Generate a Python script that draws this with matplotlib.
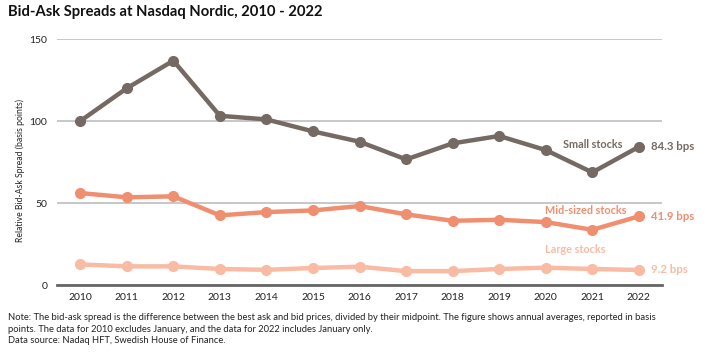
import matplotlib.pyplot as plt

plt.rcParams['font.family'] = ['Lato', 'DejaVu Sans']

years = list(range(2010, 2023))
small = [100, 120, 136.8, 103.2, 101, 93.7, 87.4, 76.6, 86.4, 90.9, 82.3, 68.7, 84.3]
mid = [56.1, 53.5, 54.1, 42.5, 44.5, 45.5, 48.2, 43.1, 39.2, 39.8, 38.4, 33.7, 41.9]
large = [12.6, 11.4, 11.4, 9.8, 9.3, 10.4, 11.2, 8.5, 8.5, 9.8, 10.6, 9.8, 9.2]

series_names = ["Small stocks", "Mid-sized stocks", "Large stocks"]
end_labels = ["84.3 bps", "41.9 bps", "9.2 bps"]
colors = ["#756a63", "#f08f6f", "#f9bba3"]

fig = plt.figure(figsize=(7.12, 3.55), dpi=100)
ax = fig.add_axes([0.080, 0.197, 0.850, 0.693])

for vals, col in zip([small, mid, large], colors):
    ax.plot(years, vals, color=col, lw=3.2, marker='o', markersize=7,
            solid_joinstyle='round', zorder=3, clip_on=False)

ax.set_xlim(2009.5, 2022.5)
ax.set_ylim(0, 150)
ax.set_yticks([0, 50, 100, 150])
ax.set_xticks(years)
ax.grid(axis='y', color='#bdbdbd', lw=1.2, zorder=0)
for s in ['top', 'right', 'left']:
    ax.spines[s].set_visible(False)
ax.spines['bottom'].set_color('#666666')
ax.spines['bottom'].set_linewidth(2)
ax.tick_params(length=0, labelsize=7.5, colors='#222222')
ax.tick_params(axis='x', pad=6)
ax.tick_params(axis='y', pad=7)
ax.set_ylabel("Relative Bid-Ask Spread (basis points)", fontsize=6.2, color='#222222')
ax.yaxis.set_label_coords(-0.052, 0.467)

# series names placed near the right end
ax.text(2021.0, 85.5, series_names[0], color=colors[0], fontsize=7.8, fontweight='bold',
        ha='center', va='center')
ax.text(2020.85, 45.7, series_names[1], color=colors[1], fontsize=7.8, fontweight='bold',
        ha='center', va='center')
ax.text(2020.63, 21.5, series_names[2], color=colors[2], fontsize=7.8, fontweight='bold',
        ha='center', va='center')
for v, lab, col in zip([small[-1], mid[-1], large[-1]], end_labels, colors):
    ax.text(2022.25, v, lab, color=col, fontsize=8.2, fontweight='bold', ha='left', va='center')

fig.text(0.011, 0.965, "Bid-Ask Spreads at Nasdaq Nordic, 2010 - 2022", fontsize=10.6,
         fontweight='bold', color='#111111', ha='left', va='center')

note = ("Note: The bid-ask spread is the difference between the best ask and bid prices, divided by their midpoint. "
        "The figure shows annual averages, reported in basis\n"
        "points. The data for 2010 excludes January, and the data for 2022 includes January only.\n"
        "Data source: Nadaq HFT, Swedish House of Finance.")
fig.text(0.011, 0.118, note, fontsize=6.75, color='#222222', ha='left', va='top', linespacing=1.35)

fig.savefig("out.png", dpi=100)
